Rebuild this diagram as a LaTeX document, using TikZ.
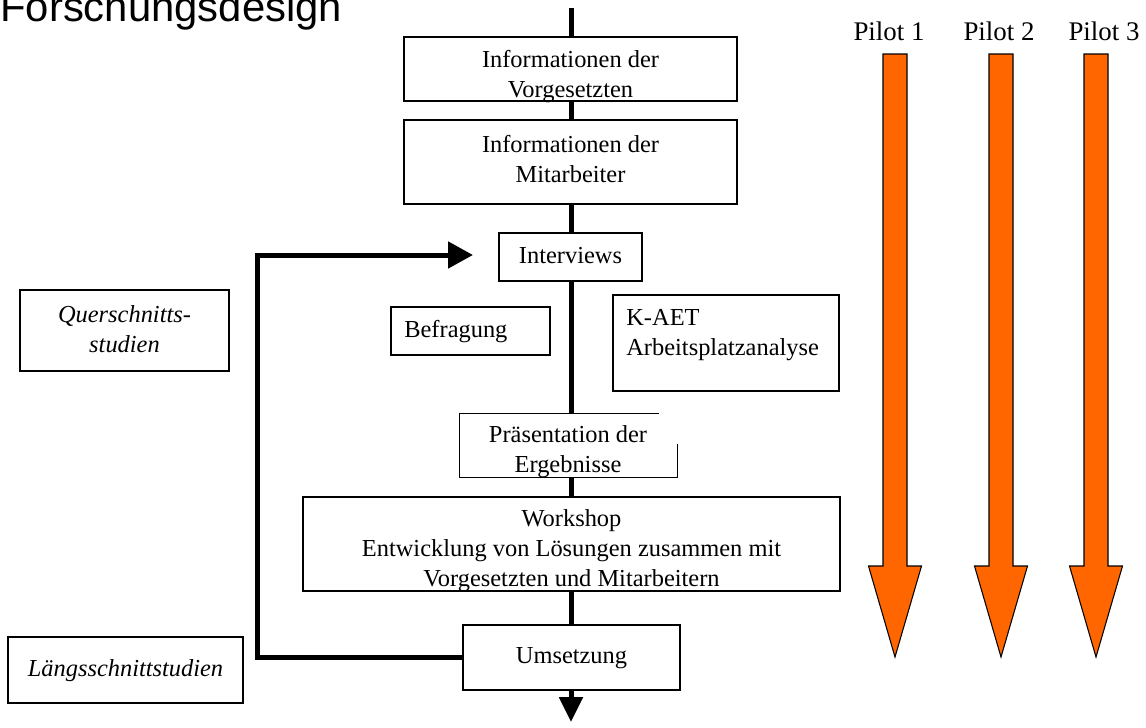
\documentclass[tikz,border=0pt]{standalone}
\usepackage{fontspec}
\setmainfont{Liberation Serif}
\newfontfamily\titlefont{Liberation Sans}
\usepackage{tikz}
\usetikzlibrary{arrows.meta, calc}
\definecolor{pilotorange}{HTML}{FF6600}

\begin{document}
\begin{tikzpicture}[
    x=0.02cm, y=-0.02cm,
    box/.style={
        draw, line width=0.7pt,
        fill=white,
        inner sep=0pt
    },
    boxtxt/.style={font=\fontsize{13.9}{17}\selectfont, align=center, anchor=base, inner sep=0pt},
    lefttxt/.style={boxtxt, align=left, anchor=base west},
    flow/.style={line width=0.1cm},
    pilot/.style={draw, line width=0.6pt, fill=pilotorange},
    pilottxt/.style={font=\fontsize{15.3}{18}\selectfont, anchor=base, inner sep=0pt}
]
\useasboundingbox (0,0) rectangle (1146,727);

% Title
\node[font=\titlefont\fontsize{23.8}{28}\selectfont, anchor=base west, inner sep=0pt]
    (title) at (0,21) {Forschungsdesign};

% ------- Main column (text placed at its last baseline) -------
\node[box, minimum width=6.66cm, minimum height=1.28cm] (vorg) at (570.5,69) {};
\node[boxtxt] (vorgtxt) at (570.5,97) {Informationen der\\Vorgesetzten};

\node[box, minimum width=6.66cm, minimum height=1.68cm] (mitarb) at (570.5,162) {};
\node[boxtxt] (mitarbtxt) at (570.5,182) {Informationen der\\Mitarbeiter};

\node[box, minimum width=2.86cm, minimum height=0.96cm] (iv) at (570.5,257) {};
\node[boxtxt] (ivtxt) at (570.5,263) {Interviews};

% Präsentation: border partly open on the right
\node[box, draw=none, minimum width=4.34cm, minimum height=1.26cm] (praes) at (568.5,445.5) {};
\draw[line width=0.7pt] ($(praes.north east)+(-19,0)$) -- (praes.north west)
    -- (praes.south west) -- (praes.south east) -- ($(praes.south east)+(0,-34)$);
\node[boxtxt] (praestxt) at (568,472) {Präsentation der\\Ergebnisse};

\node[box, minimum width=10.74cm, minimum height=1.88cm] (work) at (571.5,544) {};
\node[boxtxt] (worktxt) at (571.5,586)
    {Workshop\\Entwicklung von Lösungen zusammen mit\\Vorgesetzten und Mitarbeitern};

\node[box, minimum width=4.34cm, minimum height=1.3cm] (ums) at (571.5,657.5) {};
\node[boxtxt] (umstxt) at (571.5,663.5) {Umsetzung};

% ------- Side boxes -------
\node[box, minimum width=3.18cm, minimum height=0.96cm] (befr) at (470.5,331) {};
\node[lefttxt] (befrtxt) at (404,337.5) {Befragung};

\node[box, minimum width=4.52cm, minimum height=1.92cm] (kaet) at (726,343) {};
\node[lefttxt] (kaettxt) at (626,355) {K-AET\\Arbeitsplatzanalyse};

\node[box, minimum width=4.18cm, minimum height=1.62cm] (quer) at (124.5,330.5) {};
\node[boxtxt, font=\fontsize{13.9}{17}\selectfont\itshape] (quertxt) at (124.5,352)
    {Querschnitts-\\studien};

\node[box, minimum width=4.7cm, minimum height=1.32cm] (laengs) at (125.5,670) {};
\node[boxtxt, font=\fontsize{13.9}{17}\selectfont\itshape] (laengstxt) at (125.5,676)
    {Längsschnittstudien};

% ------- Connectors -------
\coordinate (start) at (571,8);
\coordinate (finish) at (571,722);
\draw[flow] (start) -- (start |- vorg.north);
\draw[flow] (start |- vorg.south) -- (start |- mitarb.north);
\draw[flow] (start |- mitarb.south) -- (start |- iv.north);
\draw[flow] (start |- iv.south) -- (start |- praes.north);
\draw[flow] (start |- praes.south) -- (start |- work.north);
\draw[flow] (start |- work.south) -- (start |- ums.north);
\draw[flow, -{Triangle[length=0.5cm, width=0.46cm]}] (start |- ums.south) -- (finish);

% feedback loop
\coordinate (fbcorner) at (257,255);
\coordinate (fbtip) at (473,255);
\draw[flow, -{Triangle[length=0.5cm, width=0.52cm]}] (ums.west) -| (fbcorner) -- (fbtip);

% ------- Pilots -------
\foreach \x/\lx/\n in {895/889/1, 1001/999/2, 1096/1104/3} {
    \draw[pilot] ({\x-12},54) -- ({\x+12},54) -- ({\x+12},566) -- ({\x+26.5},566)
        -- (\x,657) -- ({\x-26.5},566) -- ({\x-12},566) -- cycle;
    \node[pilottxt] (pilot\n) at (\lx,40.7) {Pilot \n};
}
\end{tikzpicture}
\end{document}
